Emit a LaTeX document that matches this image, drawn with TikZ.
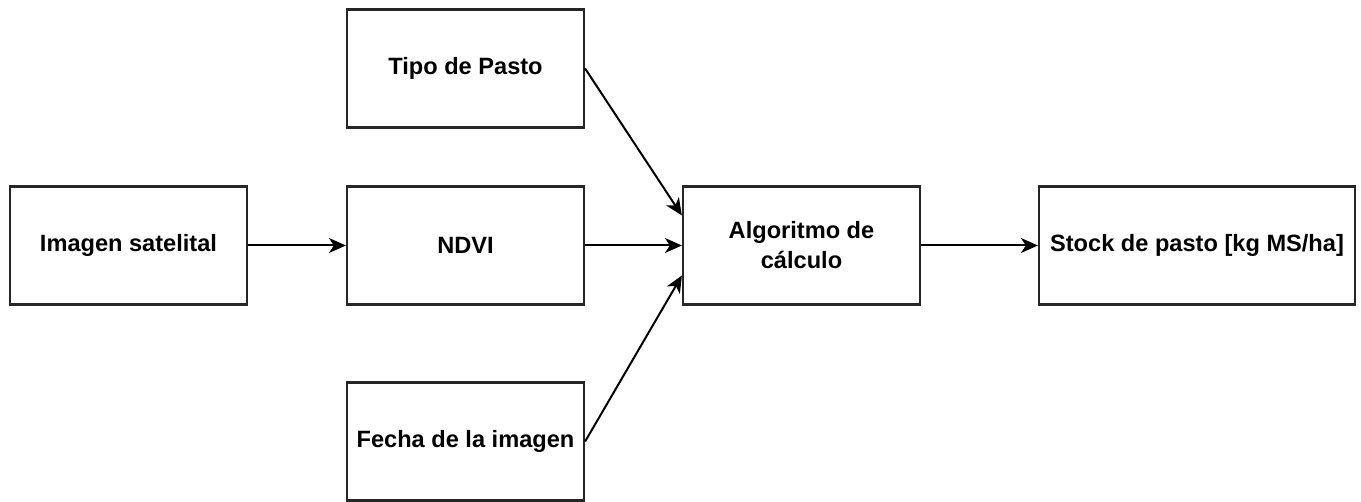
\documentclass[tikz,border=0pt]{standalone}
\usepackage{fontspec}
\setmainfont{Liberation Sans}
\usetikzlibrary{arrows.meta}
\begin{document}
\begin{tikzpicture}[x=1pt,y=-1pt,
  box/.style={draw=black!85,line width=2.2pt,minimum width=237pt,minimum height=118pt,inner sep=0pt,align=center,font=\fontsize{23.6pt}{30pt}\selectfont\bfseries},
  conn/.style={line width=2pt,-{Stealth[length=17pt,width=15pt,inset=5pt]}}]
\useasboundingbox (0,0) rectangle (1361,502);
\node[box] (img) at (128.5,245.5) {Imagen satelital};
\node[box] (ndvi) at (465.5,245.5) {NDVI};
\node[box] (tipo) at (465.5,68.5) {Tipo de Pasto};
\node[box] (fecha) at (465.5,441.5) {Fecha de la imagen};
\node[box] (alg) at (801.5,245.5) {Algoritmo de\\cálculo};
\node[box,minimum width=316pt] (stock) at (1197,245.5) {Stock de pasto [kg MS/ha]};
\draw[conn] (img.east) -- (ndvi.west);
\draw[conn] (ndvi.east) -- (alg.west);
\draw[conn] (tipo.east) -- ([yshift=30pt]alg.west);
\draw[conn] (fecha.east) -- ([yshift=-30pt]alg.west);
\draw[conn] (alg.east) -- (stock.west);
\end{tikzpicture}
\end{document}
